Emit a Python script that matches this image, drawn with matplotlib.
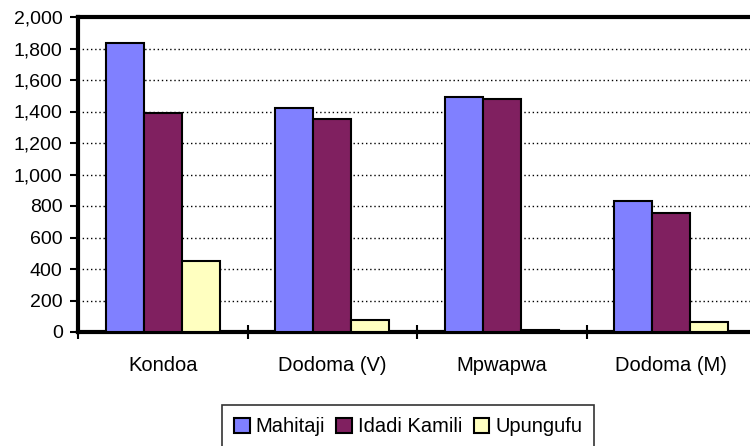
import numpy as np
from matplotlib import pyplot as plt
from matplotlib.ticker import FuncFormatter, FixedLocator

plt.rcParams['font.family'] = ['Liberation Sans', 'DejaVu Sans']

# Data
wilaya = ['Kondoa', 'Dodoma (V)', 'Mpwapwa', 'Dodoma (M)']
mahitaji = [1835, 1425, 1490, 830]
idadi_kamili = [1390, 1350, 1480, 755]
upungufu = [450, 75, 12, 65]

series = [
    ('Mahitaji', mahitaji, '#8080FF'),
    ('Idadi Kamili', idadi_kamili, '#802060'),
    ('Upungufu', upungufu, '#FFFFC0'),
]

fig = plt.figure(figsize=(7.5, 4.46), dpi=100)
ax = fig.add_axes([78 / 750, 114 / 446, 678 / 750, 315 / 446])

x = np.arange(len(wilaya))
w = 0.224
for i, (name, vals, col) in enumerate(series):
    ax.bar(x + (i - 1) * w, vals, width=w, color=col, edgecolor='black',
           linewidth=1.5, label=name, zorder=3)

ax.set_xlim(-0.5, len(wilaya) - 0.5)
ax.set_ylim(0, 2000)
ax.set_yticks(range(0, 2001, 200))
ax.yaxis.set_major_formatter(FuncFormatter(lambda v, p: f'{int(v):,}'))

ax.set_xticks(x)
ax.set_xticklabels(wilaya, fontsize=14.5)
ax.xaxis.set_minor_locator(FixedLocator(np.arange(-0.5, len(wilaya), 1.0)))
ax.tick_params(axis='x', which='major', length=0, pad=17)
ax.tick_params(axis='x', which='minor', direction='inout', length=10, width=1.5)
ax.tick_params(axis='y', direction='out', length=6, width=1.5, labelsize=14, pad=5)

for yv in range(200, 2000, 200):
    ax.axhline(yv, color='black', linestyle=(0, (1, 2)), linewidth=1, zorder=1)

for s in ['top', 'left', 'bottom']:
    ax.spines[s].set_linewidth(3)
ax.spines['right'].set_visible(False)

leg = fig.legend(loc='upper left', bbox_to_anchor=(222 / 750, 1 - 405 / 446),
                 ncol=3, fontsize=14.5, frameon=True, fancybox=False,
                 edgecolor='black', handlelength=0.78, handleheight=0.78,
                 handletextpad=0.3, columnspacing=0.55, borderpad=0.6,
                 borderaxespad=0)
leg.get_frame().set_linewidth(1.2)

fig.savefig('out.png', dpi=100)
